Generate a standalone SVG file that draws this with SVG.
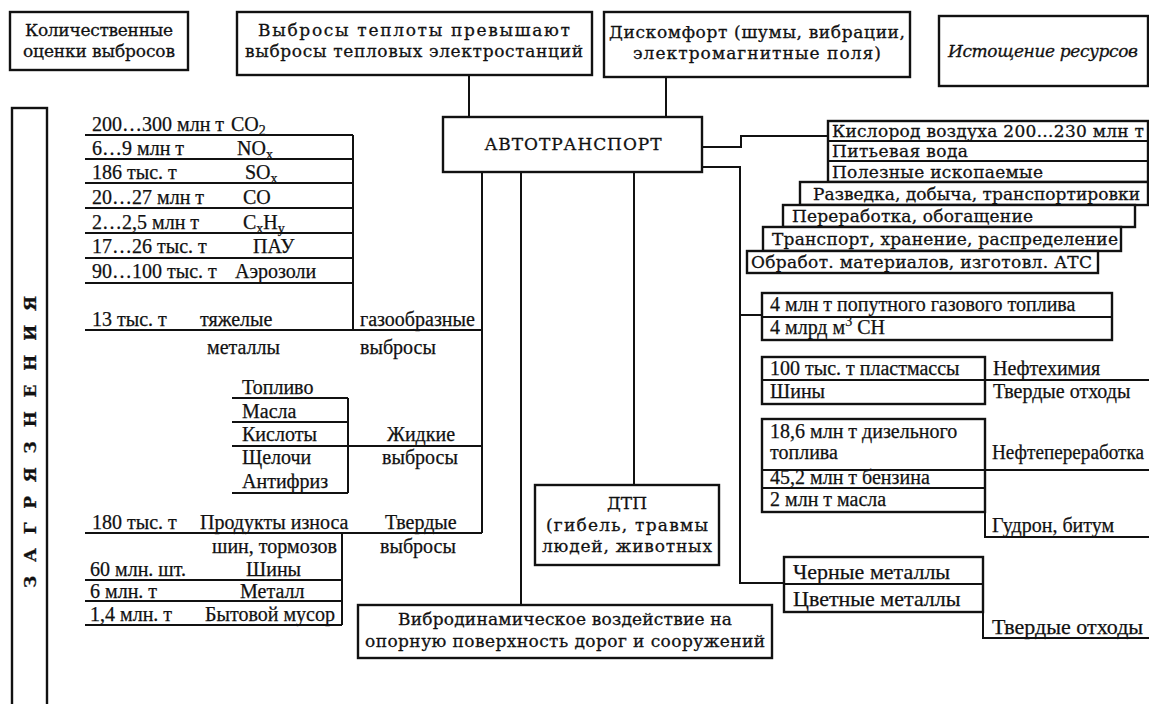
<svg xmlns="http://www.w3.org/2000/svg" width="1149" height="704" viewBox="0 0 1149 704">
<style>
.box{fill:#fff;stroke:#111;stroke-width:2.4}
.ln{fill:none;stroke:#111;stroke-width:2}
.s{font-family:"DejaVu Serif",serif;font-size:17px;fill:#111;stroke:#111;stroke-width:0.3}
.c{text-anchor:middle}
.t{font-family:"Liberation Serif",serif;font-size:20px;fill:#111;stroke:#111;stroke-width:0.25}
.tb{font-family:"Liberation Serif",serif;font-size:22px;fill:#111;stroke:#111;stroke-width:0.25}
.sub{font-size:14px}
</style>
<rect width="1149" height="704" fill="#fff"/>

<g id="connectors" class="ln">
<path d="M469,75 V117"/>
<path d="M666,77 V117"/>
<path d="M482,172 V533"/>
<path d="M521,172 V605"/>
<path d="M634,172 V485"/>
<path d="M702,147 H741 V136 H828"/>
<path d="M702,167 H740 V583 H784"/>
<path d="M740,315 H762"/>
<path d="M353,330 H482"/>
<path d="M348,446 H482"/>
<path d="M342,533 H482"/>
</g>

<g id="n-quant">
<rect class="box" x="10" y="12" width="178" height="58"/>
<text class="s c" x="99" y="36" textLength="148">Количественные</text>
<text class="s c" x="99" y="57" textLength="152">оценки выбросов</text>
</g>

<g id="n-heat">
<rect class="box" x="237" y="12" width="355" height="63"/>
<text class="s c" x="414" y="36" textLength="312">Выбросы теплоты превышают</text>
<text class="s c" x="414" y="57" textLength="338">выбросы тепловых электростанций</text>
</g>

<g id="n-discomfort">
<rect class="box" x="604" y="12" width="306" height="65"/>
<text class="s c" x="757" y="38" textLength="296">Дискомфорт (шумы, вибрации,</text>
<text class="s c" x="757" y="59" textLength="248">электромагнитные поля)</text>
</g>

<g id="n-depletion">
<rect class="box" x="939" y="16" width="209" height="70"/>
<text class="s c" x="1043" y="57" font-style="italic" textLength="190">Истощение ресурсов</text>
</g>

<g id="n-auto">
<rect class="box" x="443" y="117" width="259" height="55"/>
<text class="s c" x="573" y="150" textLength="177">АВТОТРАНСПОРТ</text>
</g>

<g id="n-pollution">
<rect class="box" x="12" y="108" width="35" height="600"/>
<text class="s c" font-weight="bold" font-size="18" transform="translate(36,442) rotate(-90)" textLength="292" lengthAdjust="spacing">ЗАГРЯЗНЕНИЯ</text>
</g>

<g id="n-gas">
<g class="ln">
<path d="M85,135 H353 M85,159 H353 M85,183 H353 M85,208 H353 M85,233 H353 M85,258 H353 M85,283 H353 M85,330 H353 M353,135 V330"/>
</g>
<text class="t" x="92" y="131">200…300 млн т<tspan x="231">CO</tspan><tspan class="sub" dy="4">2</tspan></text>
<text class="t" x="92" y="155">6…9 млн т<tspan x="237">NO</tspan><tspan class="sub" dy="4">x</tspan></text>
<text class="t" x="92" y="179">186 тыс. т<tspan x="245">SO</tspan><tspan class="sub" dy="4">x</tspan></text>
<text class="t" x="92" y="204">20…27 млн т<tspan x="243">CO</tspan></text>
<text class="t" x="92" y="229">2…2,5 млн т<tspan x="243">C</tspan><tspan class="sub" dy="4">x</tspan><tspan dy="-4">H</tspan><tspan class="sub" dy="4">y</tspan></text>
<text class="t" x="92" y="253">17…26 тыс. т<tspan x="253">ПАУ</tspan></text>
<text class="t" x="92" y="278">90…100 тыс. т<tspan x="235">Аэрозоли</tspan></text>
<text class="t" x="92" y="326">13 тыс. т<tspan x="200">тяжелые</tspan><tspan x="360">газообразные</tspan></text>
<text class="t" x="207" y="354">металлы<tspan x="360">выбросы</tspan></text>
</g>

<g id="n-liquid">
<g class="ln">
<path d="M232,398 H348 M232,422 H348 M232,446 H348 M232,493 H348 M348,398 V493"/>
</g>
<text class="t" x="242" y="394">Топливо</text>
<text class="t" x="242" y="418">Масла</text>
<text class="t" x="242" y="441">Кислоты</text>
<text class="t" x="242" y="464">Щелочи</text>
<text class="t" x="242" y="488">Антифриз</text>
<text class="t" x="387" y="441">Жидкие</text>
<text class="t" x="382" y="464">выбросы</text>
</g>

<g id="n-solid">
<g class="ln">
<path d="M85,533 H342 M342,533 V625 M85,580 H342 M85,601 H342 M85,625 H342"/>
</g>
<text class="t" x="92" y="529">180 тыс. т</text>
<text class="t" x="200" y="529">Продукты износа</text>
<text class="t" x="385" y="529">Твердые</text>
<text class="t" x="212" y="553">шин, тормозов</text>
<text class="t" x="380" y="553">выбросы</text>
<text class="t" x="90" y="576">60 млн. шт.</text>
<text class="t" x="246" y="576">Шины</text>
<text class="t" x="90" y="598">6 млн. т</text>
<text class="t" x="240" y="598">Металл</text>
<text class="t" x="90" y="621">1,4 млн. т</text>
<text class="t" x="205" y="621">Бытовой мусор</text>
</g>

<g id="n-resources">
<rect class="box" x="828" y="121" width="320" height="61"/>
<path class="ln" d="M828,141 H1149 M828,161 H1149"/>
<text class="s" x="832" y="137" textLength="312">Кислород воздуха 200…230 млн т</text>
<text class="s" x="832" y="157" textLength="136">Питьевая вода</text>
<text class="s" x="832" y="178" textLength="211">Полезные ископаемые</text>
</g>

<g id="n-stages">
<rect class="box" x="800" y="182" width="348" height="23"/>
<text class="s" x="813" y="200" textLength="327">Разведка, добыча, транспортировки</text>
<rect class="box" x="783" y="205" width="352" height="22"/>
<text class="s" x="792" y="222" textLength="241">Переработка, обогащение</text>
<rect class="box" x="763" y="227" width="358" height="24"/>
<text class="s" x="772" y="245" textLength="346">Транспорт, хранение, распределение</text>
<rect class="box" x="747" y="251" width="351" height="22"/>
<text class="s" x="751" y="268" textLength="341">Обработ. материалов, изготовл. АТС</text>
</g>

<g id="n-gasfuel">
<rect class="box" x="762" y="293" width="350" height="47"/>
<path class="ln" d="M762,317 H1112"/>
<text class="t" x="770" y="311">4 млн т попутного газового топлива</text>
<text class="t" x="770" y="334">4 млрд м<tspan class="sub" dy="-8">3</tspan><tspan dy="8"> CH</tspan></text>
</g>

<g id="n-petrochem">
<rect class="box" x="762" y="357" width="223" height="47"/>
<path class="ln" d="M762,380 H1149"/>
<text class="t" x="770" y="375">100 тыс. т пластмассы</text>
<text class="t" x="770" y="398">Шины</text>
<text class="t" x="993" y="375">Нефтехимия</text>
<text class="t" x="993" y="398">Твердые отходы</text>
</g>

<g id="n-refining">
<rect class="box" x="762" y="419" width="223" height="93"/>
<path class="ln" d="M762,470 H1149 M762,488 H985 M985,512 V537 H1149"/>
<text class="t" x="770" y="438">18,6 млн т дизельного</text>
<text class="t" x="770" y="459">топлива</text>
<text class="t" x="770" y="484">45,2 млн т бензина</text>
<text class="t" x="770" y="506">2 млн т масла</text>
<text class="t" x="992" y="459" textLength="152" lengthAdjust="spacingAndGlyphs">Нефтепереработка</text>
<text class="t" x="992" y="532">Гудрон, битум</text>
</g>

<g id="n-metals">
<rect class="box" x="784" y="557" width="199" height="55"/>
<path class="ln" d="M784,584 H983 M983,612 V638 H1149"/>
<text class="tb" x="793" y="579">Черные металлы</text>
<text class="tb" x="793" y="606">Цветные металлы</text>
<text class="tb" x="992" y="634">Твердые отходы</text>
</g>

<g id="n-accident">
<rect class="box" x="535" y="485" width="184" height="80"/>
<text class="s c" x="627" y="509">ДТП</text>
<text class="s c" x="627" y="531" textLength="162">(гибель, травмы</text>
<text class="s c" x="627" y="552" textLength="170">людей, животных</text>
</g>

<g id="n-vibro">
<rect class="box" x="358" y="605" width="414" height="53"/>
<text class="s c" x="565" y="625" textLength="334">Вибродинамическое воздействие на</text>
<text class="s c" x="565" y="647" textLength="400">опорную поверхность дорог и сооружений</text>
</g>
</svg>
